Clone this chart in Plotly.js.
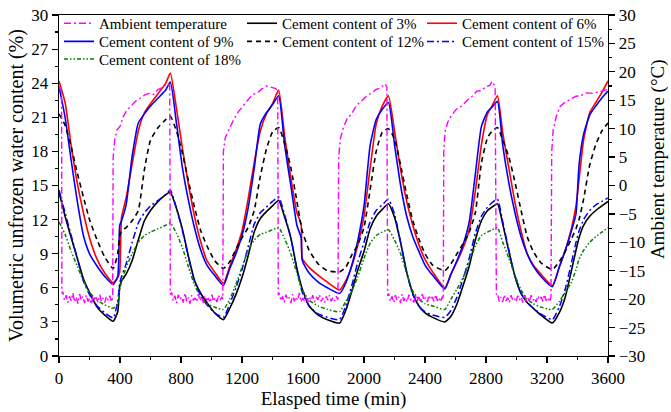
<!DOCTYPE html>
<html>
<head>
<meta charset="utf-8">
<script src="https://cdn.plot.ly/plotly-3.0.1.min.js"></script>
<style>html,body{margin:0;padding:0;background:#fff;}#chart{width:671px;height:412px;}</style>
</head>
<body>
<div id="chart"></div>
<script>
// Elapsed time (min) for soil water content series
const timeMin = [
  0, 40, 80, 120, 160, 200, 250, 300, 355,
  385, 398, 410, 440, 480, 520, 560, 600, 650, 700, 730,
  770, 810, 850, 890, 930, 970, 1020, 1078,
  1120, 1160, 1200, 1240, 1280, 1320, 1360, 1400, 1440,
  1480, 1520, 1560, 1588, 1595, 1640, 1700, 1760, 1840,
  1880, 1920, 1960, 2000, 2040, 2080, 2120, 2160,
  2200, 2240, 2280, 2320, 2360, 2400, 2450, 2530,
  2570, 2610, 2650, 2690, 2730, 2770, 2810, 2840, 2875,
  2910, 2950, 2990, 3030, 3070, 3110, 3160, 3235,
  3280, 3320, 3360, 3390, 3410, 3440, 3480, 3520, 3560, 3600
];
const cement3 = [
  14.4, 12.3, 10.4, 8.6, 6.8, 5.6, 4.3, 3.6, 3.05,
  3.9, 6.1, 6.6, 7.2, 8.4, 10.2, 11.9, 12.8, 13.6, 14.2, 14.4,
  13.0, 11.1, 8.7, 6.6, 5.5, 4.7, 3.8, 3.2,
  4.2, 5.4, 6.9, 8.8, 10.9, 12.1, 12.7, 13.2, 13.7,
  12.2, 10.4, 7.7, 6.2, 5.9, 4.4, 3.6, 3.2, 2.9,
  4.0, 5.7, 7.6, 9.2, 11.2, 12.3, 12.9, 13.4,
  12.2, 10.0, 7.4, 5.5, 4.4, 3.8, 3.4, 3.0,
  3.5, 4.6, 6.2, 7.9, 10.2, 11.9, 12.8, 13.1, 13.4,
  11.6, 9.2, 7.0, 5.5, 4.7, 4.2, 3.6, 2.9,
  3.8, 5.2, 7.5, 9.3, 10.4, 11.5, 12.3, 12.8, 13.2, 13.6
];
const cement6 = [
  24.2, 22.3, 18.5, 15.2, 12.6, 10.4, 8.5, 7.3, 6.45,
  6.9, 7.4, 12.2, 13.9, 16.9, 19.8, 21.4, 22.2, 23.1, 24.0, 24.9,
  21.8, 18.2, 15.0, 12.2, 10.0, 8.4, 7.4, 6.4,
  7.9, 9.3, 11.0, 13.8, 17.0, 19.8, 21.3, 22.2, 23.4,
  19.3, 15.7, 12.6, 11.6, 8.6, 7.8, 7.1, 6.5, 5.8,
  6.6, 7.9, 9.8, 12.3, 16.5, 20.4, 22.0, 22.9,
  19.8, 16.4, 13.6, 11.5, 9.8, 8.5, 7.4, 6.0,
  7.2, 8.3, 9.5, 11.1, 14.5, 18.6, 21.3, 22.0, 22.9,
  19.6, 16.5, 13.5, 11.0, 9.0, 8.0, 7.2, 6.2,
  7.8, 9.3, 11.2, 13.2, 15.5, 19.0, 21.4, 22.3, 23.2, 24.2
];
const cement9 = [
  23.7, 21.0, 17.2, 13.6, 10.6, 9.0, 7.9, 7.0, 6.3,
  7.0, 11.5, 11.9, 13.3, 17.6, 20.5, 21.3, 22.0, 22.7, 23.4, 24.1,
  20.5, 16.5, 13.6, 11.2, 9.3, 8.0, 7.1, 6.2,
  7.7, 9.0, 10.6, 13.0, 16.5, 20.4, 21.4, 22.1, 22.9,
  18.5, 15.0, 11.5, 10.4, 8.4, 7.3, 6.5, 6.0, 5.5,
  6.4, 8.0, 10.2, 13.2, 18.5, 20.8, 21.7, 22.3,
  18.6, 15.0, 12.3, 10.5, 9.2, 8.0, 7.1, 5.9,
  7.2, 8.4, 9.8, 11.8, 16.0, 20.2, 21.5, 21.9, 22.4,
  18.5, 15.2, 12.6, 10.5, 9.0, 7.9, 7.0, 6.1,
  7.8, 9.3, 11.0, 12.5, 16.8, 19.5, 21.2, 22.0, 22.7, 23.3
];
const cement12 = [
  21.3, 20.3, 18.4, 16.1, 14.0, 12.0, 10.2, 8.7, 7.7,
  9.0, 10.6, 11.0, 11.3, 11.9, 12.8, 16.4, 19.0, 20.1, 20.8, 21.1,
  19.8, 17.8, 15.3, 13.0, 11.0, 9.7, 8.4, 7.7,
  8.3, 9.4, 10.4, 11.3, 12.8, 15.8, 18.2, 19.7, 20.1,
  18.7, 16.6, 13.6, 11.4, 11.0, 9.3, 8.1, 7.5, 7.4,
  7.8, 8.9, 9.8, 11.3, 14.6, 18.0, 19.7, 20.0,
  19.1, 16.8, 14.2, 11.9, 10.3, 9.0, 8.0, 7.5,
  8.1, 9.0, 9.9, 10.9, 12.6, 17.0, 19.2, 19.8, 20.1,
  19.0, 17.5, 15.3, 12.8, 10.5, 9.2, 8.2, 7.6,
  8.3, 9.2, 10.3, 11.2, 12.0, 13.8, 16.8, 18.6, 19.8, 20.5
];
const cement15 = [
  14.6, 12.6, 10.6, 8.6, 6.6, 5.4, 4.4, 3.8, 3.35,
  4.8, 6.4, 7.0, 8.1, 10.0, 11.7, 12.6, 13.2, 13.7, 14.2, 14.6,
  13.0, 11.0, 8.6, 6.5, 5.3, 4.5, 3.8, 3.4,
  4.6, 6.0, 7.6, 9.6, 11.6, 12.6, 13.1, 13.6, 14.0,
  12.4, 10.4, 7.6, 6.0, 5.6, 4.4, 3.7, 3.4, 3.2,
  4.4, 6.2, 8.3, 10.0, 11.8, 12.8, 13.3, 13.8,
  12.5, 10.0, 7.3, 5.4, 4.4, 3.9, 3.6, 3.4,
  4.0, 5.2, 6.8, 8.6, 10.8, 12.3, 13.1, 13.5, 13.8,
  11.8, 9.3, 7.0, 5.5, 4.7, 4.2, 3.7, 3.2,
  4.3, 5.9, 8.2, 10.0, 11.0, 12.0, 12.8, 13.3, 13.6, 13.9
];
const cement18 = [
  11.8, 10.7, 9.2, 7.9, 6.6, 5.6, 4.9, 4.5, 4.2,
  4.6, 5.8, 6.5, 7.8, 9.0, 10.0, 10.6, 10.9, 11.2, 11.5, 11.7,
  10.8, 9.5, 7.8, 6.2, 5.2, 4.6, 4.3, 4.1,
  5.0, 6.3, 7.8, 9.3, 10.2, 10.7, 10.9, 11.1, 11.3,
  10.3, 9.0, 7.3, 6.0, 5.8, 4.9, 4.4, 4.1, 3.9,
  4.8, 5.7, 7.0, 8.6, 9.9, 10.6, 10.9, 11.1,
  10.2, 9.0, 7.3, 5.7, 5.0, 4.6, 4.4, 4.1,
  5.0, 5.9, 6.9, 8.2, 9.7, 10.6, 10.9, 11.1, 11.3,
  10.0, 8.6, 7.1, 5.8, 5.0, 4.6, 4.3, 4.1,
  4.8, 5.6, 6.5, 7.6, 8.5, 9.3, 10.0, 10.5, 10.9, 11.3
];

// Ambient temperature (°C), right axis
const ambTime = [
  0, 6, 12, 17, 19,
  25, 36, 47, 58, 69, 80, 91, 102, 113, 124, 135, 146, 157, 168, 179, 190, 201, 212, 223, 234, 245, 256, 267, 278, 289, 300, 311, 322, 333, 344, 352,
  355, 365, 380, 400, 420, 445, 470, 500, 530, 560, 590, 620, 650, 680, 705, 726, 730,
  738, 749, 760, 771, 782, 793, 804, 815, 826, 837, 848, 859, 870, 881, 892, 903, 914, 925, 936, 947, 958, 969, 980, 991, 1002, 1013, 1024, 1035, 1046, 1057, 1068, 1074,
  1078, 1090, 1110, 1140, 1174, 1210, 1240, 1265, 1300, 1330, 1362, 1390, 1416, 1434, 1438,
  1444, 1455, 1466, 1477, 1488, 1499, 1510, 1521, 1532, 1543, 1554, 1565, 1576, 1587, 1598, 1609, 1620, 1631, 1642, 1653, 1664, 1675, 1686, 1697, 1708, 1719, 1730, 1741, 1752, 1763, 1774, 1785, 1796, 1807, 1818, 1829,
  1834, 1845, 1864, 1890, 1919, 1950, 1985, 2015, 2050, 2080, 2110, 2138, 2150, 2155,
  2162, 2173, 2184, 2195, 2206, 2217, 2228, 2239, 2250, 2261, 2272, 2283, 2294, 2305, 2316, 2327, 2338, 2349, 2360, 2371, 2382, 2393, 2404, 2415, 2426, 2437, 2448, 2459, 2470, 2481, 2492, 2503, 2514, 2520,
  2523, 2531, 2550, 2573, 2605, 2641, 2680, 2710, 2740, 2770, 2800, 2825, 2840, 2860, 2868,
  2876, 2887, 2898, 2909, 2920, 2931, 2942, 2953, 2964, 2975, 2986, 2997, 3008, 3019, 3030, 3041, 3052, 3063, 3074, 3085, 3096, 3107, 3118, 3129, 3140, 3151, 3162, 3173, 3184, 3195, 3206, 3217, 3226,
  3231, 3240, 3260, 3286, 3320, 3352, 3390, 3420, 3460, 3500, 3540, 3570, 3600
];
const ambTemp = [
  17.4, 16.9, 17.3, 16.8, -19.0,
  -18.7, -20.2, -19.3, -20.6, -19.5, -20.3, -18.9, -20.5, -19.6, -20.8, -19.1, -20.2, -19.5, -20.7, -19.3, -20.4, -19.8, -20.9, -19.4, -20.3, -19.7, -20.6, -19.2, -20.4, -19.8, -20.6, -19.5, -20.2, -19.4, -20.5, -19.8,
  4.8, 8.0, 9.8, 10.4, 12.0, 13.3, 13.9, 14.8, 15.3, 15.9, 16.2, 16.0, 16.9, 17.2, 17.9, 17.6, -19.2,
  -18.8, -20.3, -19.4, -20.7, -19.2, -20.1, -19.6, -20.6, -18.9, -20.4, -19.7, -20.8, -19.3, -20.2, -19.8, -20.5, -19.1, -20.3, -19.6, -20.7, -19.4, -20.1, -19.9, -20.6, -19.2, -20.4, -19.7, -20.5, -19.3, -20.2, -19.6, -20.0,
  6.0, 8.4, 9.6, 11.3, 12.9, 14.1, 15.0, 15.9, 16.3, 17.0, 17.5, 17.3, 17.1, 16.8, -19.3,
  -18.9, -20.3, -19.5, -20.6, -19.2, -20.1, -19.7, -20.7, -19.1, -20.4, -19.6, -20.2, -18.9, -20.5, -19.8, -20.3, -19.4, -20.6, -19.7, -20.2, -19.3, -20.5, -19.6, -20.1, -19.2, -20.4, -19.8, -20.6, -19.5, -20.2, -19.3, -20.4, -19.7, -20.3, -19.5, -20.1,
  5.0, 8.2, 10.1, 11.8, 12.6, 14.1, 14.9, 15.7, 16.3, 16.9, 17.2, 17.9, 17.3, -19.4,
  -19.0, -20.4, -19.5, -20.6, -19.3, -20.2, -19.6, -20.7, -19.1, -20.3, -19.7, -20.5, -19.2, -20.1, -19.8, -20.6, -19.4, -20.3, -19.6, -20.4, -19.1, -20.2, -19.7, -20.5, -19.3, -20.1, -19.6, -20.4, -19.2, -20.3, -19.7, -20.5, -19.5, -20.0,
  6.0, 9.4, 11.2, 12.3, 13.4, 14.0, 15.1, 15.7, 16.6, 16.7, 17.4, 17.6, 18.3, 17.4, -19.2,
  -19.0, -20.4, -19.6, -20.5, -19.2, -20.3, -19.7, -20.6, -19.3, -20.1, -19.8, -20.5, -19.4, -20.2, -19.6, -20.6, -19.1, -20.3, -19.7, -20.4, -19.3, -20.2, -19.8, -20.5, -19.4, -20.1, -19.6, -20.4, -19.2, -20.3, -19.7, -20.5, -19.6,
  6.0, 9.6, 12.1, 13.9, 14.7, 15.1, 15.7, 15.8, 16.3, 16.2, 16.5, 16.6, 16.9
];

const FONT = 'Liberation Serif, Times New Roman, serif';
const SOIL_LINE = {shape: 'spline', smoothing: 0.5};
const traces = [
  {x: ambTime, y: ambTemp, yaxis: 'y2', name: 'Ambient temperature', mode: 'lines', legend: 'legend',
   line: {color: '#FF00FF', width: 1.4, dash: '7px,3px,2px,3px'}},
  {x: timeMin, y: cement3, name: 'Cement content of 3%', mode: 'lines', legend: 'legend2',
   line: Object.assign({color: '#000000', width: 1.6}, SOIL_LINE)},
  {x: timeMin, y: cement6, name: 'Cement content of 6%', mode: 'lines', legend: 'legend3',
   line: Object.assign({color: '#FF0000', width: 1.6}, SOIL_LINE)},
  {x: timeMin, y: cement9, name: 'Cement content of 9%', mode: 'lines', legend: 'legend4',
   line: Object.assign({color: '#0000FF', width: 1.6}, SOIL_LINE)},
  {x: timeMin, y: cement12, name: 'Cement content of 12%', mode: 'lines', legend: 'legend5',
   line: Object.assign({color: '#000000', width: 1.6, dash: '5px,4px'}, SOIL_LINE)},
  {x: timeMin, y: cement15, name: 'Cement content of 15%', mode: 'lines', legend: 'legend6',
   line: Object.assign({color: '#0000FF', width: 1.5, dash: '7px,3px,2px,3px'}, SOIL_LINE)},
  {x: timeMin, y: cement18, name: 'Cement content of 18%', mode: 'lines', legend: 'legend7',
   line: Object.assign({color: '#008000', width: 1.5, dash: '4px,2px,1.5px,2px,1.5px,2px'}, SOIL_LINE)}
];

const axisCommon = {
  showgrid: false, zeroline: false, showline: true, linecolor: '#000', linewidth: 1.3,
  ticks: 'outside', ticklen: 6, tickwidth: 1.2, tickcolor: '#000',
  ticklabeloverflow: 'allow',
  tickfont: {family: FONT, size: 17, color: '#000'}
};

// plot area in pixels (for placing legend entries and right title)
const PLOT_TOP = 7, PLOT_BOTTOM = 356, PLOT_LEFT = 59, PLOT_RIGHT = 608;
const pyToPaper = py => (PLOT_BOTTOM - py) / (PLOT_BOTTOM - PLOT_TOP);
const pxToPaper = px => (px - PLOT_LEFT) / (PLOT_RIGHT - PLOT_LEFT);

const COL_X = [pxToPaper(59), pxToPaper(242), pxToPaper(422)];
const ROW_Y = [pyToPaper(15.7), pyToPaper(34.3), pyToPaper(52.3)];
function legendAt(col, row) {
  return {orientation: 'v', x: COL_X[col], y: ROW_Y[row], xanchor: 'left', yanchor: 'middle',
          itemwidth: 30, bgcolor: 'rgba(0,0,0,0)', borderwidth: 0,
          font: {family: FONT, size: 15, color: '#000'}};
}

const layout = {
  width: 671, height: 412,
  margin: {l: 59, r: 63, t: 7, b: 56, pad: 0},
  paper_bgcolor: '#fff', plot_bgcolor: '#fff',
  font: {family: FONT, size: 17, color: '#000'},
  showlegend: true,
  legend: legendAt(0, 0),
  legend2: legendAt(1, 0),
  legend3: legendAt(2, 0),
  legend4: legendAt(0, 1),
  legend5: legendAt(1, 1),
  legend6: legendAt(2, 1),
  legend7: legendAt(0, 2),
  annotations: [{
    text: 'Ambient temperature (°C)', textangle: -90, showarrow: false,
    xref: 'paper', yref: 'paper', x: pxToPaper(658), y: pyToPaper(154.5),
    xanchor: 'center', yanchor: 'middle',
    font: {family: FONT, size: 19, color: '#000'}
  }],
  xaxis: Object.assign({}, axisCommon, {
    range: [0, 3600], tick0: 0, dtick: 400, mirror: true,
    minor: {dtick: 200, ticks: 'outside', ticklen: 3, tickwidth: 1.2, tickcolor: '#000', showgrid: false},
    title: {text: 'Elasped time (min)', font: {family: FONT, size: 19, color: '#000'}, standoff: 0}
  }),
  yaxis: Object.assign({}, axisCommon, {
    range: [0, 30], tick0: 0, dtick: 3,
    minor: {dtick: 1.5, ticks: 'outside', ticklen: 3, tickwidth: 1.2, tickcolor: '#000', showgrid: false},
    title: {text: 'Volumetric unfrozen water content (%)', font: {family: FONT, size: 20, color: '#000'}, standoff: 2}
  }),
  yaxis2: Object.assign({}, axisCommon, {
    overlaying: 'y', side: 'right', range: [-30, 30], tick0: -30, dtick: 5,
    minor: {dtick: 2.5, ticks: 'outside', ticklen: 3, tickwidth: 1.2, tickcolor: '#000', showgrid: false}
  })
};

Plotly.newPlot('chart', traces, layout, {staticPlot: true, displayModeBar: false});
</script>
</body>
</html>
